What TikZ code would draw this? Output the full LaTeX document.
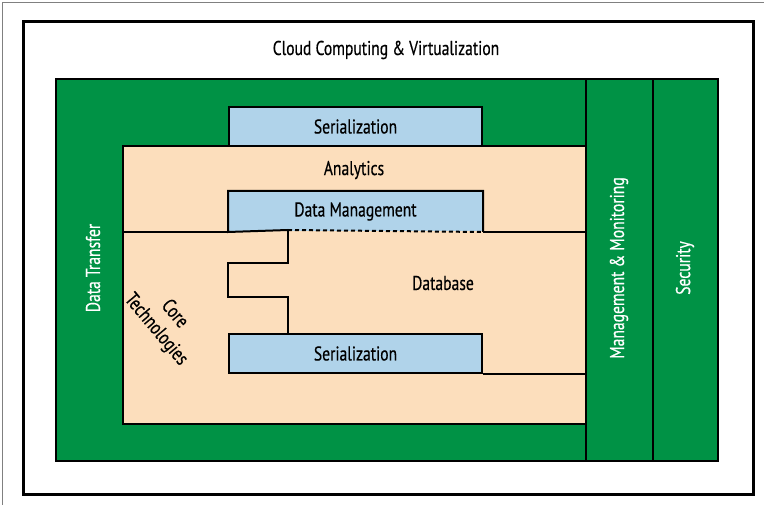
\documentclass[tikz,border=0pt]{standalone}
\usepackage{fontspec}
\setmainfont{PT Sans}[FakeStretch=0.78, FakeBold=0.4]
\usetikzlibrary{positioning}

\definecolor{hgreen}{RGB}{0,146,69}
\definecolor{peach}{RGB}{252,222,188}
\definecolor{lblue}{RGB}{176,211,234}

\tikzstyle{layer} = [rectangle, draw, line width=2pt, inner sep=0pt, anchor=north west]
\tikzstyle{box} = [layer, fill=lblue, minimum width=253pt, minimum height=39pt, font=\fontsize{20}{22}\selectfont]
\tikzstyle{column} = [layer, fill=hgreen, minimum height=382pt]
\tikzstyle{label} = [font=\fontsize{20}{22}\selectfont, inner sep=0pt]
\tikzstyle{side} = [label, rotate=90, text=white]
\tikzstyle{edge} = [line width=2pt]

\begin{document}
\begin{tikzpicture}
    [x=1pt, y=-1pt]
  \useasboundingbox (0,0) rectangle (764,505);
  \draw[gray, line width=0.8pt] (2,505) -- (2,2) -- (764,2);
  % outer frame and layers
  \node[layer, line width=3pt, minimum width=730pt, minimum height=473pt] (cloud) at (22,20) {};
  \node[column, minimum width=530pt] (transfer) at (55,78) {};
  \node[column, minimum width=67pt] (mgmt) at (585,78) {};
  \node[column, minimum width=65pt] (security) at (652,78) {};
  \node[layer, fill=peach, minimum width=463pt, minimum height=278pt] (core) at (122,145) {};
  \node[box] (ser1) at (228,106) {Serialization};
  \node[box, draw=none] (dm) at (228,191) {Data Management};
  \node[box] (ser2) at (228,333) {Serialization};
  % texts
  \node[label] (cloudtxt) at (386,50) {Cloud Computing \& Virtualization};
  \node[label] (analytics) at (354,170) {Analytics};
  \node[label] (db) at (443,283) {Database};
  \node[label, rotate=-50, align=center] (coretxt) at (165,322) {Core\\[2pt]Technologies};
  \node[side] (transfertxt) at (93,268) {Data Transfer};
  \node[side] (mgmttxt) at (619,268) {Management \& Monitoring};
  \node[side] (sectxt) at (685,268) {Security};
  % borders inside the analytics layer
  \coordinate (notch) at (288,230);
  \draw[edge] (notch) -- (dm.south west) -- (dm.north west) -- (dm.north east) -- (dm.south east);
  \draw[edge] (dm.south west -| core.west) -- (dm.south west);
  \draw[edge] (dm.south east) -- (dm.south east -| core.east);
  \draw[edge, dash pattern=on 4pt off 3pt] (notch) -- (dm.south east);
  \draw[edge] (notch) -- ++(0,33) -- ++(-60,0) -- ++(0,34) -- ++(60,0) -- (notch |- ser2.north);
  \draw[edge] (ser2.south east) -- (ser2.south east -| core.east);
\end{tikzpicture}
\end{document}
